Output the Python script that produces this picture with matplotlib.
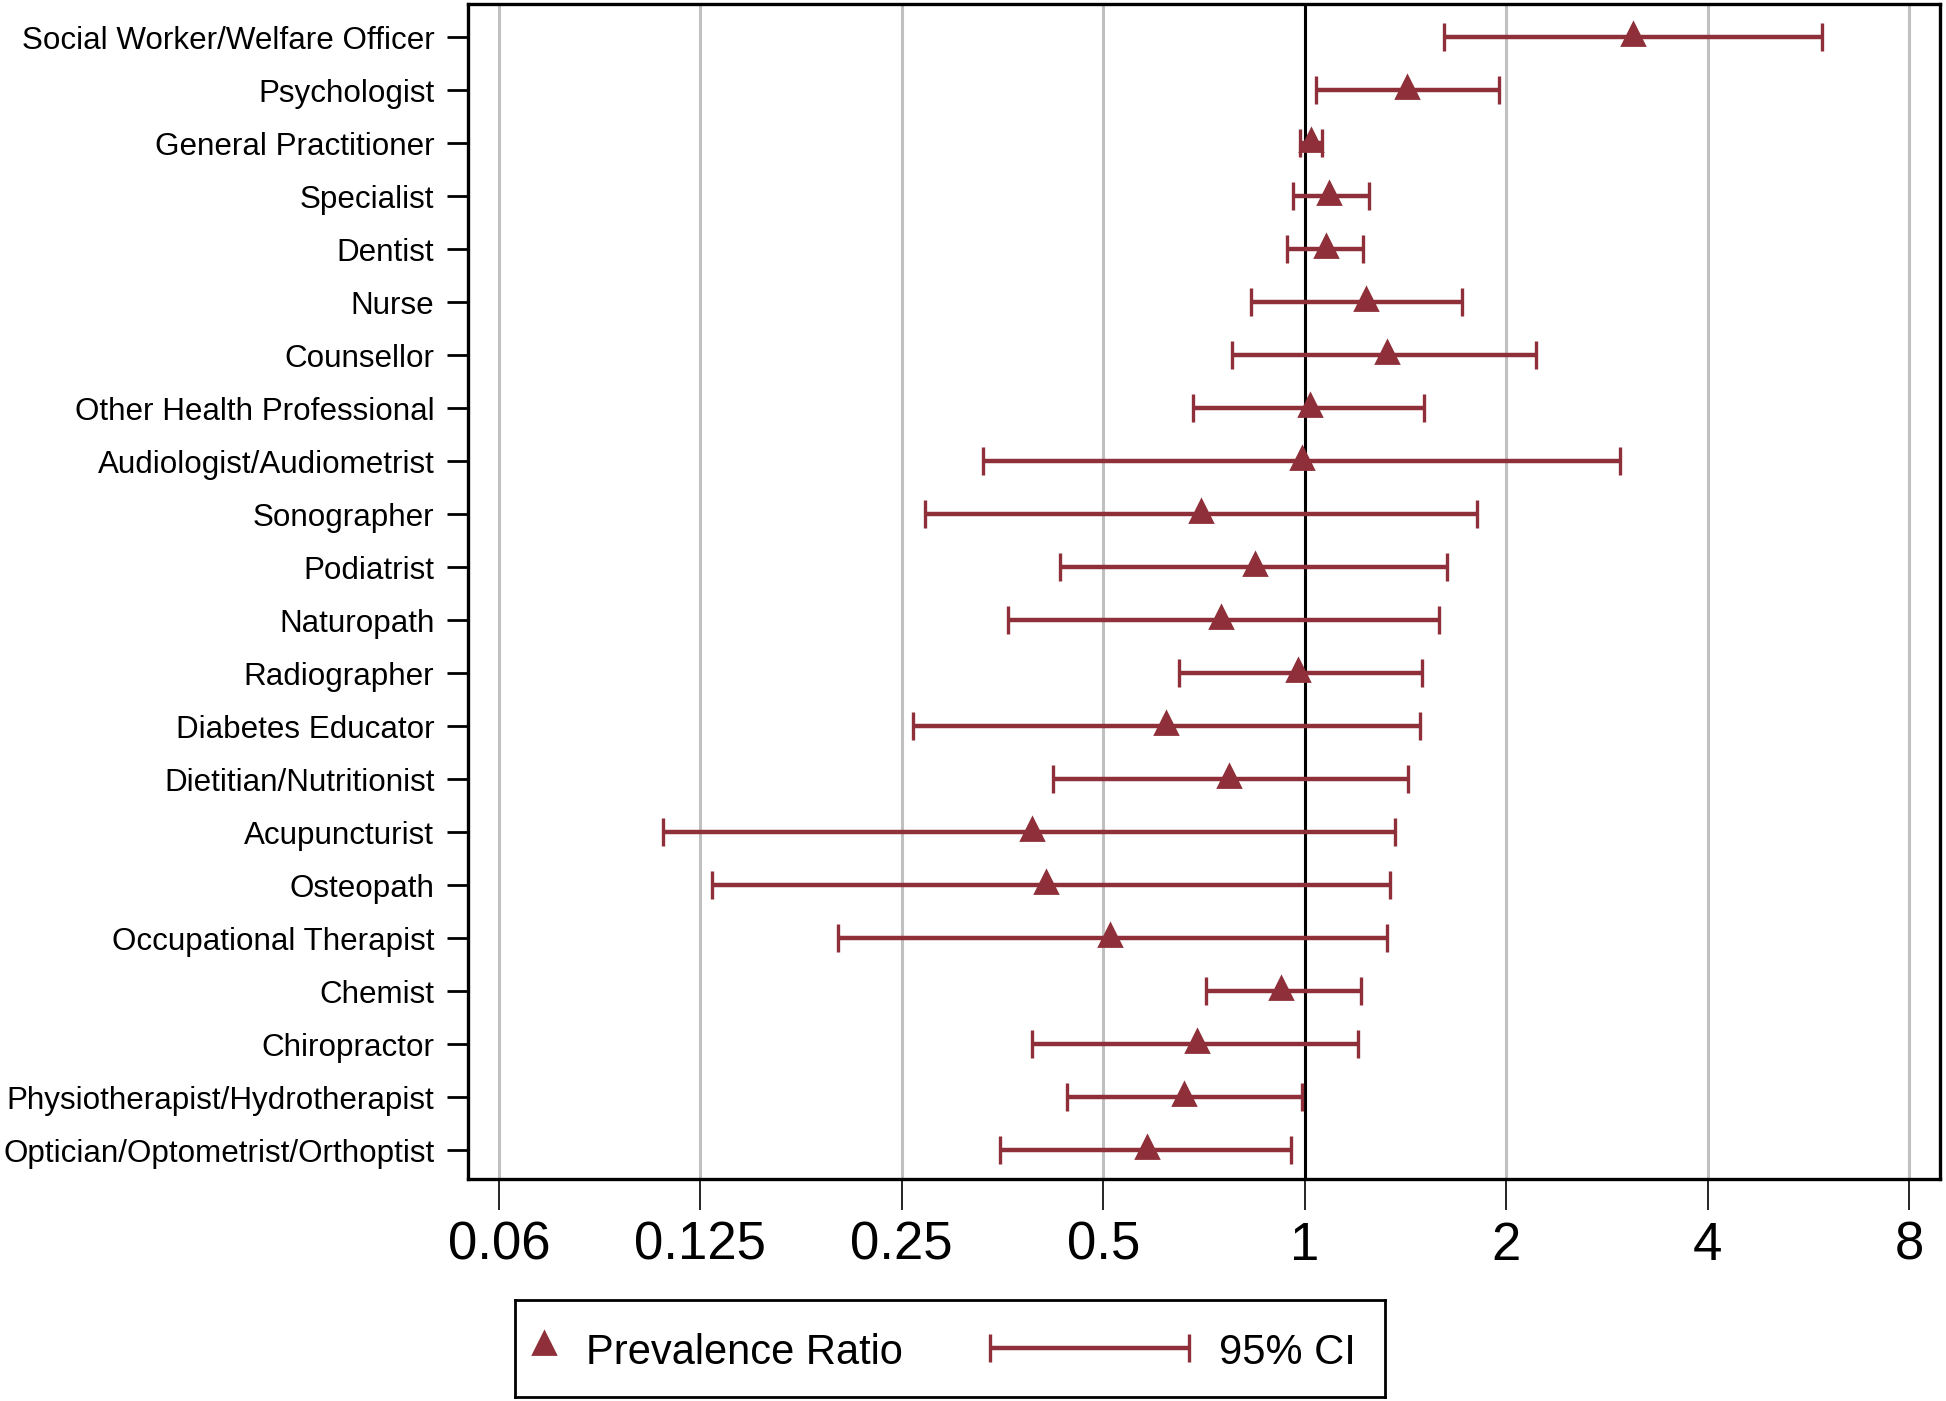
import numpy as np
import matplotlib
matplotlib.use("Agg")
import matplotlib.pyplot as plt

plt.rcParams['font.family'] = ['Liberation Sans', 'DejaVu Sans']

# professions, top to bottom
professions = [
    "Social Worker/Welfare Officer", "Psychologist", "General Practitioner",
    "Specialist", "Dentist", "Nurse", "Counsellor", "Other Health Professional",
    "Audiologist/Audiometrist", "Sonographer", "Podiatrist", "Naturopath",
    "Radiographer", "Diabetes Educator", "Dietitian/Nutritionist",
    "Acupuncturist", "Osteopath", "Occupational Therapist", "Chemist",
    "Chiropractor", "Physiotherapist/Hydrotherapist",
    "Optician/Optometrist/Orthoptist",
]
pr = [3.10, 1.42, 1.022, 1.089, 1.075, 1.233, 1.326, 1.017, 0.991, 0.701,
      0.843, 0.751, 0.979, 0.620, 0.771, 0.391, 0.411, 0.512, 0.922, 0.690,
      0.661, 0.581]
ci_low = [1.613, 1.039, 0.983, 0.962, 0.942, 0.832, 0.780, 0.681, 0.331, 0.271,
          0.431, 0.360, 0.650, 0.260, 0.420, 0.110, 0.130, 0.201, 0.711, 0.391,
          0.441, 0.351]
ci_high = [5.94, 1.955, 1.062, 1.248, 1.222, 1.72, 2.22, 1.507, 2.96, 1.81,
           1.634, 1.586, 1.50, 1.488, 1.425, 1.366, 1.343, 1.326, 1.212, 1.202,
           0.991, 0.954]

xticks = [0.0625, 0.125, 0.25, 0.5, 1, 2, 4, 8]
xticklabels = ["0.06", "0.125", "0.25", "0.5", "1", "2", "4", "8"]

col = '#8e2f39'

fig = plt.figure(figsize=(9.73, 7.005), dpi=200)
ax = fig.add_axes([0.2405, 0.1585, 0.7564, 0.8386])

y = np.arange(len(professions))
pr = np.array(pr)
lo = pr - np.array(ci_low)
hi = np.array(ci_high) - pr

ax.axvline(1, color='black', lw=1.1, zorder=2)
ax.errorbar(pr, y, xerr=[lo, hi], fmt='none', ecolor=col, elinewidth=1.6,
            capsize=4.9, capthick=1.2, zorder=3)
ax.plot(pr, y - 0.06, ls='none', marker='^', ms=8, color=col, zorder=4)

ax.set_xscale('log', base=2)
ax.set_xlim(0.0562, 8.9)
ax.set_xticks(xticks)
ax.set_xticklabels(xticklabels, fontsize=19)
ax.xaxis.set_minor_locator(matplotlib.ticker.NullLocator())
ax.grid(axis='x', color='#c0c0c0', lw=1.1, zorder=0)
ax.set_axisbelow(True)

ax.set_yticks(y)
ax.set_yticklabels(professions, fontsize=11.3)
ax.set_ylim(len(professions) - 1 + 0.54, -0.63)

ax.tick_params(axis='y', length=7.6, width=1.0, pad=4.5)
ax.tick_params(axis='x', length=11, width=0.6, pad=4)
for s in ax.spines.values():
    s.set_linewidth(1.2)

# legend box
lax = fig.add_axes([0.2646, 0.0029, 0.4471, 0.0692])
lax.set_xlim(0, 1)
lax.set_ylim(0, 1)
lax.set_xticks([])
lax.set_yticks([])
for s in lax.spines.values():
    s.set_linewidth(1.0)
lax.plot([0.033], [0.56], ls='none', marker='^', ms=8, color=col)
lax.text(0.082, 0.45, "Prevalence Ratio", fontsize=15, va='center', ha='left')
lax.errorbar([0.66], [0.5], xerr=[[0.114], [0.115]], fmt='none', ecolor=col,
             elinewidth=1.6, capsize=4.9, capthick=1.2)
lax.text(0.809, 0.45, "95% CI", fontsize=15, va='center', ha='left')

fig.savefig("out.png", dpi=200)
